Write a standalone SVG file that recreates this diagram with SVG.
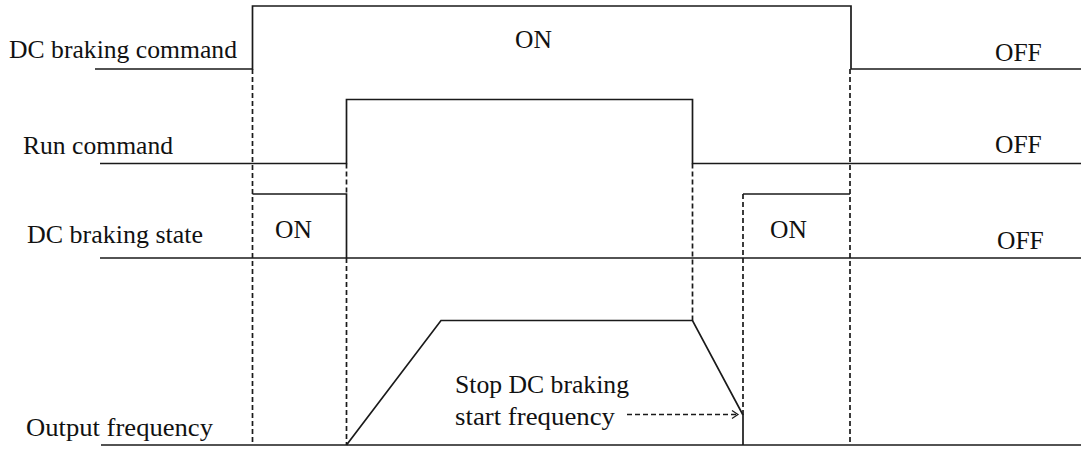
<svg xmlns="http://www.w3.org/2000/svg" width="1081" height="450" viewBox="0 0 1081 450">
<style>
text{font-family:"Liberation Serif","Times New Roman",serif;font-size:25.5px;fill:#111}
.s{fill:none;stroke:#1a1a1a;stroke-width:1.7}
.d{fill:none;stroke:#1a1a1a;stroke-width:1.7;stroke-dasharray:5,3}
</style>
<defs>
<marker id="arr" markerWidth="10" markerHeight="10" refX="8" refY="5" orient="auto" markerUnits="userSpaceOnUse">
<path d="M2,1 L8,5 L2,9" fill="none" stroke="#1a1a1a" stroke-width="1.2"/>
</marker>
</defs>
<rect width="1081" height="450" fill="#fff"/>
<g id="labels">
<text x="9" y="58" textLength="228" lengthAdjust="spacingAndGlyphs">DC braking command</text>
<text x="23" y="154" textLength="150" lengthAdjust="spacingAndGlyphs">Run command</text>
<text x="27" y="243" textLength="176" lengthAdjust="spacingAndGlyphs">DC braking state</text>
<text x="26" y="436" textLength="187" lengthAdjust="spacingAndGlyphs">Output frequency</text>
</g>
<g id="dc-braking-command">
<path class="s" d="M95,69 H252.5 V6 H851 V69 H1081"/>
<text x="515" y="48">ON</text>
<text x="995" y="61">OFF</text>
</g>
<g id="run-command">
<path class="s" d="M100,163.5 H346.5 V99.5 H692.5 V163.5 H1081"/>
<text x="995" y="153">OFF</text>
</g>
<g id="dc-braking-state">
<path class="s" d="M100,258 H1081"/>
<path class="s" d="M252.5,194 H346.5 V258"/>
<path class="s" d="M743,194 H850"/>
<text x="275" y="238">ON</text>
<text x="770" y="238">ON</text>
<text x="997" y="249">OFF</text>
</g>
<g id="output-frequency">
<path class="s" d="M101,445 H1081"/>
<path class="s" d="M346.5,445 L441,320.5 H692.5 L743,415 V445"/>
<text x="455" y="393" textLength="174" lengthAdjust="spacingAndGlyphs">Stop DC braking</text>
<text x="455" y="425" textLength="160" lengthAdjust="spacingAndGlyphs">start frequency</text>
</g>
<g id="connectors">
<path class="d" d="M252.5,69 V445"/>
<path class="d" d="M346.5,163.5 V194"/>
<path class="d" d="M346.5,258 V445"/>
<path class="d" d="M692.5,163.5 V320.5"/>
<path class="d" d="M743,194 V415"/>
<path class="d" d="M850,69 V445"/>
<path class="d" d="M627,414.5 H738" marker-end="url(#arr)"/>
</g>
</svg>
